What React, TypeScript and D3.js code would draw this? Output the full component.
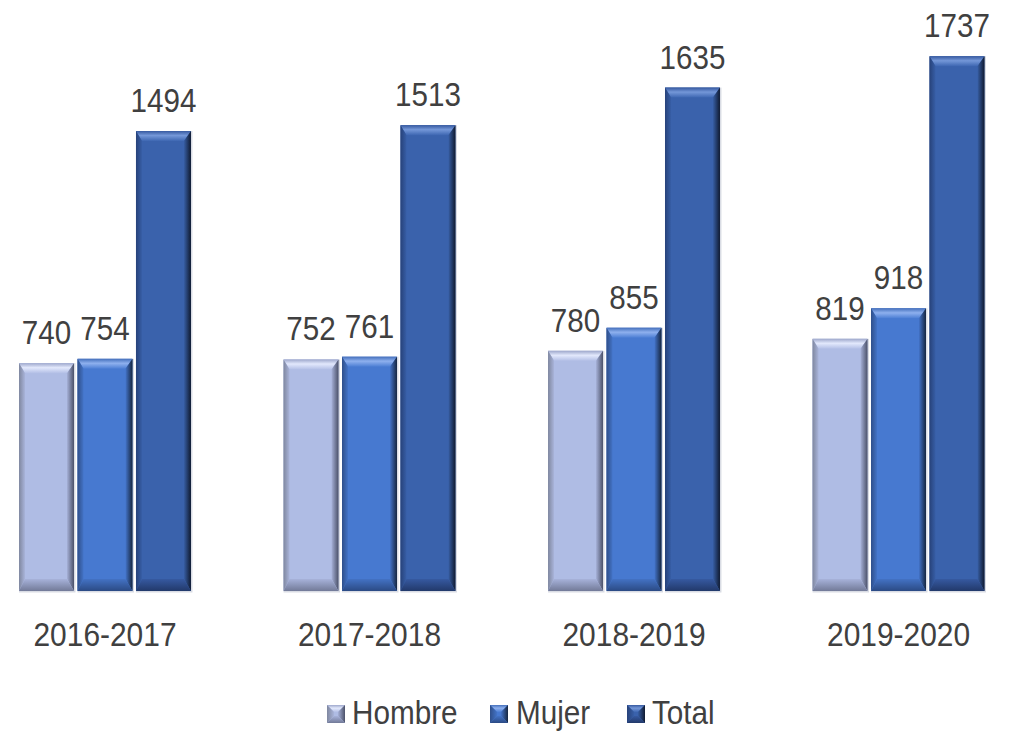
import React from "react";
import * as d3 from "d3";

const categories = ["2016-2017", "2017-2018", "2018-2019", "2019-2020"];
const seriesNames = ["Hombre", "Mujer", "Total"];
const hombre = [740, 752, 780, 819];
const mujer = [754, 761, 855, 918];
const total = [1494, 1513, 1635, 1737];
const seriesValues = [hombre, mujer, total];

const palette: Record<string, { face: string; top: string[]; left: string[]; right: string[]; bottom: string[] }> = {
  Hombre: {
    face: "#afbce4",
    top: ["#9ea8cc", "#e2e8fc", "#b3bfe6"],
    left: ["#7f879f", "#a9b4da"],
    right: ["#a6b1d8", "#4b5169"],
    bottom: ["#a7b2da", "#727a98"],
  },
  Mujer: {
    face: "#4779d0",
    top: ["#4570bc", "#8eb0ee", "#4c7ed4"],
    left: ["#2f4f8a", "#4373c6"],
    right: ["#4373c8", "#162640"],
    bottom: ["#4372c4", "#2b4a84"],
  },
  Total: {
    face: "#3a62ac",
    top: ["#3659a0", "#7497d8", "#3e67b2"],
    left: ["#27427a", "#375ea6"],
    right: ["#375ea4", "#101a30"],
    bottom: ["#3659a0", "#22396a"],
  },
};

const W = 1018;
const H = 733;
const baseY = 591;
const topY = 6;

const x0 = d3.scaleBand<string>().domain(categories).range([5.8, 997.7]).paddingInner(0.35).paddingOuter(0.05);
const x1 = d3.scaleBand<string>().domain(seriesNames).range([0, x0.bandwidth()]).paddingInner(0.06).paddingOuter(0);
const y = d3.scaleLinear().domain([0, 1900]).range([baseY, topY]);

function Bevel({ x, y, w, h, s, bt, bb, bl, br }: any) {
  const c = palette[s];
  const id = s;
  const pts = (arr: number[][]) => arr.map((p) => p.join(",")).join(" ");
  return (
    <g>
      <rect x={x} y={y} width={w} height={h} fill={c.face} />
      <polygon points={pts([[x, y], [x + w, y], [x + w - br, y + bt], [x + bl, y + bt]])} fill={`url(#top-${id})`} />
      <polygon points={pts([[x, y], [x + bl, y + bt], [x + bl, y + h - bb], [x, y + h]])} fill={`url(#left-${id})`} />
      <polygon points={pts([[x + w, y], [x + w, y + h], [x + w - br, y + h - bb], [x + w - br, y + bt]])} fill={`url(#right-${id})`} />
      <polygon points={pts([[x, y + h], [x + bl, y + h - bb], [x + w - br, y + h - bb], [x + w, y + h]])} fill={`url(#bottom-${id})`} />
    </g>
  );
}

function HText({ x, y, children, size, anchor = "middle", sx = 0.9 }: any) {
  return (
    <text
      transform={`translate(${x},${y}) scale(${sx},1)`}
      textAnchor={anchor}
      fontFamily="'Liberation Sans', Arial, sans-serif"
      fontSize={size}
      fill="#404040"
    >
      {children}
    </text>
  );
}

export default function App() {
  const legendItems = [
    { name: "Hombre", mx: 327, tx: 352 },
    { name: "Mujer", mx: 490, tx: 516 },
    { name: "Total", mx: 627, tx: 652 },
  ];
  return (
    <svg width={W} height={H} style={{ position: "absolute", left: 0, top: 0, background: "#ffffff" }}>
      <defs>
        {seriesNames.map((s) => {
          const c = palette[s];
          return (
            <React.Fragment key={s}>
              <linearGradient id={`top-${s}`} x1="0" y1="0" x2="0" y2="1">
                <stop offset="0" stopColor={c.top[0]} />
                <stop offset="0.45" stopColor={c.top[1]} />
                <stop offset="1" stopColor={c.top[2]} />
              </linearGradient>
              <linearGradient id={`left-${s}`} x1="0" y1="0" x2="1" y2="0">
                <stop offset="0" stopColor={c.left[0]} />
                <stop offset="1" stopColor={c.left[1]} />
              </linearGradient>
              <linearGradient id={`right-${s}`} x1="0" y1="0" x2="1" y2="0">
                <stop offset="0" stopColor={c.right[0]} />
                <stop offset="1" stopColor={c.right[1]} />
              </linearGradient>
              <linearGradient id={`bottom-${s}`} x1="0" y1="0" x2="0" y2="1">
                <stop offset="0" stopColor={c.bottom[0]} />
                <stop offset="1" stopColor={c.bottom[1]} />
              </linearGradient>
            </React.Fragment>
          );
        })}
      </defs>
      {categories.map((cat, ci) => (
        <g key={cat}>
          {seriesNames.map((s, si) => {
            const v = seriesValues[si][ci];
            const bx = (x0(cat) as number) + (x1(s) as number);
            const bw = x1.bandwidth();
            const by = y(v);
            const bh = baseY - by;
            return (
              <g key={s}>
                <rect x={bx} y={by} width={bw + 1.5} height={bh + 1.5} fill="#c9cdd8" opacity={0.7} />
                <Bevel x={bx} y={by} w={bw} h={bh} s={s} bt={10} bb={12} bl={6} br={7} />
                <HText x={bx + bw / 2} y={by - 19} size={34} sx={0.87}>
                  {v}
                </HText>
              </g>
            );
          })}
          <HText x={(x0(cat) as number) + x0.bandwidth() / 2} y={646} size={34} sx={0.88}>
            {cat}
          </HText>
        </g>
      ))}
      {legendItems.map((it) => (
        <g key={it.name}>
          <Bevel x={it.mx} y={705} w={18} h={18} s={it.name} bt={7} bb={7} bl={7} br={7} />
          <HText x={it.tx} y={724} size={33} anchor="start">
            {it.name}
          </HText>
        </g>
      ))}
    </svg>
  );
}
